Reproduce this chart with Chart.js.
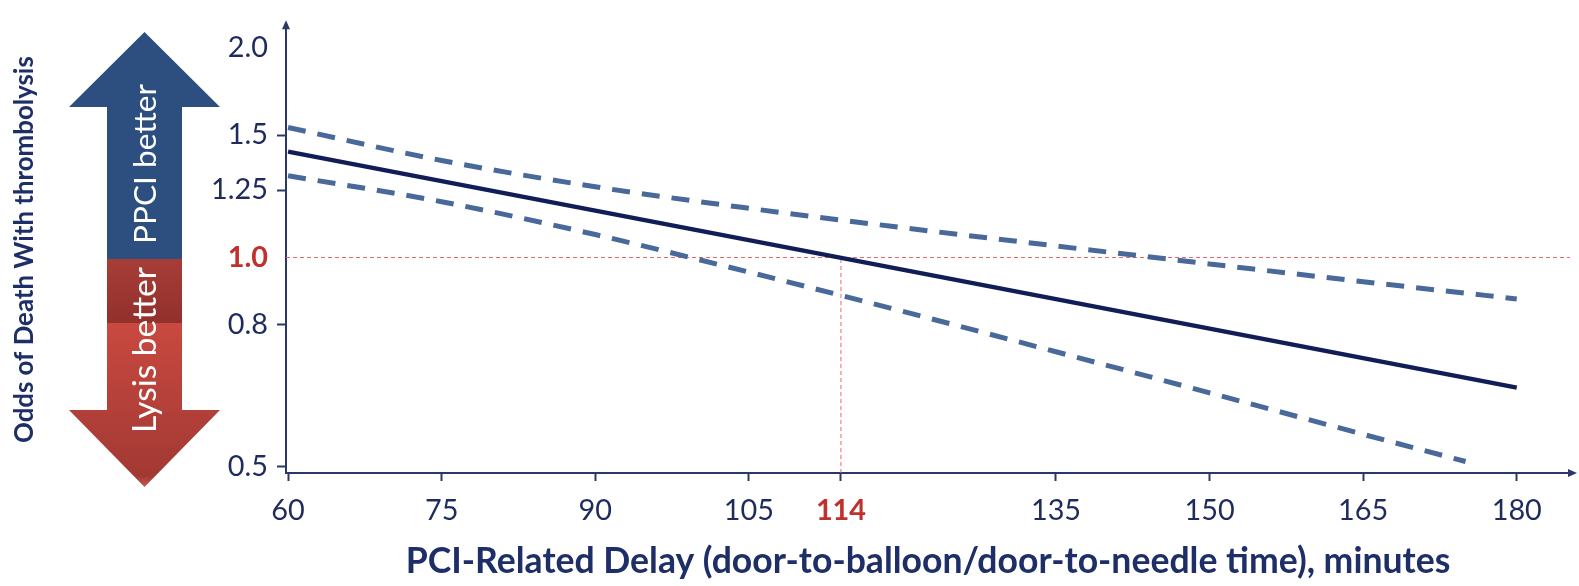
<!DOCTYPE html>
<html>
<head>
<meta charset="utf-8">
<title>Odds of death with thrombolysis vs PCI-related delay</title>
<script src="https://cdn.jsdelivr.net/npm/chart.js@4/dist/chart.umd.min.js"></script>
<style>
  html, body { margin: 0; padding: 0; background: #ffffff; }
  #wrap { width: 1579px; height: 586px; position: relative; }
</style>
</head>
<body>
<div id="wrap"><canvas id="chart"></canvas></div>
<script>
// ---- data -------------------------------------------------------------
const ESTIMATE_DELAY = [60, 180];                 // minutes
const ESTIMATE_ODDS = [1.42, 0.65];               // fitted odds ratio

const UPPER_DELAY = [60, 75, 90, 105, 120, 135, 150, 165, 180];
const UPPER_ODDS = [1.538, 1.379, 1.264, 1.177, 1.104, 1.039, 0.979, 0.923, 0.872];

const LOWER_DELAY = [60, 75, 90, 105, 120, 135, 150, 165, 175];
const LOWER_ODDS = [1.311, 1.203, 1.079, 0.953, 0.837, 0.732, 0.639, 0.557, 0.509];

const NEUTRAL_ODDS = 1.0;
const CROSSOVER_DELAY = 114;

const X_TICKS = [60, 75, 90, 105, 114, 135, 150, 165, 180];
const Y_TICKS = [0.5, 0.8, 1.0, 1.25, 1.5, 2.0];
const Y_TICK_LABELS = ['0.5', '0.8', '1.0', '1.25', '1.5', '2.0'];

const X_MIN = 59.8, X_MAX = 185.2;
const Y_MIN = 0.49, Y_MAX = 2.15;

const X_TITLE = 'PCI-Related Delay (door-to-balloon/door-to-needle time), minutes';
const Y_TITLE = 'Odds of Death With thrombolysis';
const UP_LABEL = 'PPCI better';
const DOWN_LABEL = 'Lysis better';

// ---- styling ----------------------------------------------------------
const FAMILY = 'Lato, "Open Sans", "Liberation Sans", sans-serif';
const NAVY = '#1e2b5c';
const AXIS = '#2a3868';
const RED = '#c0302c';
const SOLID = '#111d57';
const DASHED = '#48699a';
const REF = 'rgba(232, 96, 96, 0.95)';

// size a font so that a string spans a given width
function fitSize(text, weight, width) {
  const c = document.createElement('canvas').getContext('2d');
  c.font = weight + ' 100px ' + FAMILY;
  return 100 * width / c.measureText(text).width;
}
const TICK_SIZE = fitSize('1.25', 'normal', 57);
const X_TITLE_SIZE = fitSize(X_TITLE, 'bold', 1045);
const Y_TITLE_SIZE = fitSize(Y_TITLE, 'bold', 387);
const UP_SIZE = fitSize(UP_LABEL, 'normal', 160);
const DOWN_SIZE = fitSize(DOWN_LABEL, 'normal', 166);

const pts = (xs, ys) => xs.map((x, i) => ({ x: x, y: ys[i] }));

// big two-way arrow on the left plus the arrowheads of both axes
const decorations = {
  id: 'decorations',
  beforeDraw(chart) {
    const ctx = chart.ctx;
    const cx = 144.5, tipTop = 32, headTop = 107, split = 259, band = 323,
          headBottom = 410, tipBottom = 487, shaftL = 107, shaftR = 182,
          headL = 69, headR = 220;
    ctx.save();
    // upper (blue) half
    ctx.beginPath();
    ctx.moveTo(cx, tipTop);
    ctx.lineTo(headR, headTop);
    ctx.lineTo(shaftR, headTop);
    ctx.lineTo(shaftR, split);
    ctx.lineTo(shaftL, split);
    ctx.lineTo(shaftL, headTop);
    ctx.lineTo(headL, headTop);
    ctx.closePath();
    ctx.fillStyle = '#2d4f80';
    ctx.fill();
    // lower (red) half
    const g = ctx.createLinearGradient(0, split, 0, tipBottom);
    const f = (band - split) / (tipBottom - split);
    g.addColorStop(0, '#a83d37');
    g.addColorStop(f - 0.002, '#92302c');
    g.addColorStop(f, '#c9493f');
    g.addColorStop(0.62, '#b5413a');
    g.addColorStop(0.95, '#a33833');
    g.addColorStop(1, '#c65a50');
    ctx.beginPath();
    ctx.moveTo(shaftL, split);
    ctx.lineTo(shaftR, split);
    ctx.lineTo(shaftR, headBottom);
    ctx.lineTo(headR, headBottom);
    ctx.lineTo(cx, tipBottom);
    ctx.lineTo(headL, headBottom);
    ctx.lineTo(shaftL, headBottom);
    ctx.closePath();
    ctx.fillStyle = g;
    ctx.fill();
    // labels inside the arrow
    ctx.fillStyle = '#ffffff';
    ctx.textAlign = 'center';
    ctx.textBaseline = 'middle';
    ctx.translate(cx + 1, 0);
    ctx.rotate(-Math.PI / 2);
    ctx.font = 'normal ' + UP_SIZE + 'px ' + FAMILY;
    ctx.fillText(UP_LABEL, -164, 0);
    ctx.font = 'normal ' + DOWN_SIZE + 'px ' + FAMILY;
    ctx.fillText(DOWN_LABEL, -350, 0);
    ctx.restore();
  },
  afterDraw(chart) {
    const ctx = chart.ctx, a = chart.chartArea;
    ctx.save();
    ctx.fillStyle = AXIS;
    // y-axis arrowhead
    ctx.beginPath();
    ctx.moveTo(a.left, a.top - 6);
    ctx.lineTo(a.left + 4, a.top + 3);
    ctx.lineTo(a.left - 4, a.top + 3);
    ctx.closePath();
    ctx.fill();
    // x-axis arrowhead
    ctx.beginPath();
    ctx.moveTo(a.right + 7, a.bottom);
    ctx.lineTo(a.right - 2, a.bottom - 4);
    ctx.lineTo(a.right - 2, a.bottom + 4);
    ctx.closePath();
    ctx.fill();
    ctx.restore();
  }
};

const tickFont = (ctx, special) => (ctx.tick && ctx.tick.value === special)
  ? { family: FAMILY, size: TICK_SIZE, weight: 'bold' }
  : { family: FAMILY, size: TICK_SIZE, weight: 'normal' };

new Chart(document.getElementById('chart'), {
  type: 'line',
  data: {
    datasets: [
      {
        label: 'Odds ratio',
        data: pts(ESTIMATE_DELAY, ESTIMATE_ODDS),
        borderColor: SOLID, borderWidth: 4.5, pointRadius: 0, tension: 0
      },
      {
        label: 'Upper 95% CI',
        data: pts(UPPER_DELAY, UPPER_ODDS),
        borderColor: DASHED, borderWidth: 5, borderDash: [18, 12],
        pointRadius: 0, cubicInterpolationMode: 'monotone'
      },
      {
        label: 'Lower 95% CI',
        data: pts(LOWER_DELAY, LOWER_ODDS),
        borderColor: DASHED, borderWidth: 5, borderDash: [18, 12],
        pointRadius: 0, cubicInterpolationMode: 'monotone'
      },
      {
        label: 'No difference',
        data: pts([X_MIN, X_MAX], [NEUTRAL_ODDS, NEUTRAL_ODDS]),
        borderColor: REF, borderWidth: 1, borderDash: [4, 3], pointRadius: 0
      },
      {
        label: 'Crossover delay',
        data: pts([CROSSOVER_DELAY, CROSSOVER_DELAY], [Y_MIN, NEUTRAL_ODDS]),
        borderColor: REF, borderWidth: 1, borderDash: [4, 3], pointRadius: 0
      }
    ]
  },
  options: {
    responsive: true,
    maintainAspectRatio: false,
    animation: false,
    layout: { padding: { top: 16, right: 9, bottom: 0, left: 0 } },
    plugins: { legend: { display: false }, tooltip: { enabled: false } },
    scales: {
      x: {
        type: 'linear',
        min: X_MIN, max: X_MAX,
        afterBuildTicks: s => { s.ticks = X_TICKS.map(v => ({ value: v })); },
        afterFit: s => { s.height = 113; },
        ticks: {
          autoSkip: false, maxRotation: 0, padding: 12,
          callback: v => String(v),
          color: c => (c.tick && c.tick.value === CROSSOVER_DELAY) ? RED : NAVY,
          font: c => tickFont(c, CROSSOVER_DELAY)
        },
        grid: {
          display: true, drawOnChartArea: false, drawTicks: true,
          tickLength: 8, tickWidth: 2, tickColor: AXIS
        },
        border: { display: true, color: AXIS, width: 2 },
        title: {
          display: true, text: X_TITLE, color: '#1d2f66',
          font: { family: FAMILY, size: X_TITLE_SIZE, weight: 'bold' },
          padding: { top: 0, bottom: 3 }
        }
      },
      y: {
        type: 'logarithmic',
        min: Y_MIN, max: Y_MAX,
        afterBuildTicks: s => { s.ticks = Y_TICKS.map(v => ({ value: v })); },
        afterFit: s => { s.width = 286; },
        ticks: {
          autoSkip: false, padding: 9,
          callback: v => Y_TICK_LABELS[Y_TICKS.indexOf(v)],
          color: c => (c.tick && c.tick.value === NEUTRAL_ODDS) ? RED : NAVY,
          font: c => tickFont(c, NEUTRAL_ODDS)
        },
        grid: {
          display: true, drawOnChartArea: false, drawTicks: true,
          tickLength: 9, tickWidth: 2,
          tickColor: c => (c.tick && (c.tick.value === 2 || c.tick.value === NEUTRAL_ODDS)) ? 'rgba(0,0,0,0)' : AXIS
        },
        border: { display: true, color: AXIS, width: 2 },
        title: {
          display: true, text: Y_TITLE, color: '#1d2f66',
          font: { family: FAMILY, size: Y_TITLE_SIZE, weight: 'bold' },
          padding: { top: 9, bottom: 0 }
        }
      }
    }
  },
  plugins: [decorations]
});
</script>
</body>
</html>
